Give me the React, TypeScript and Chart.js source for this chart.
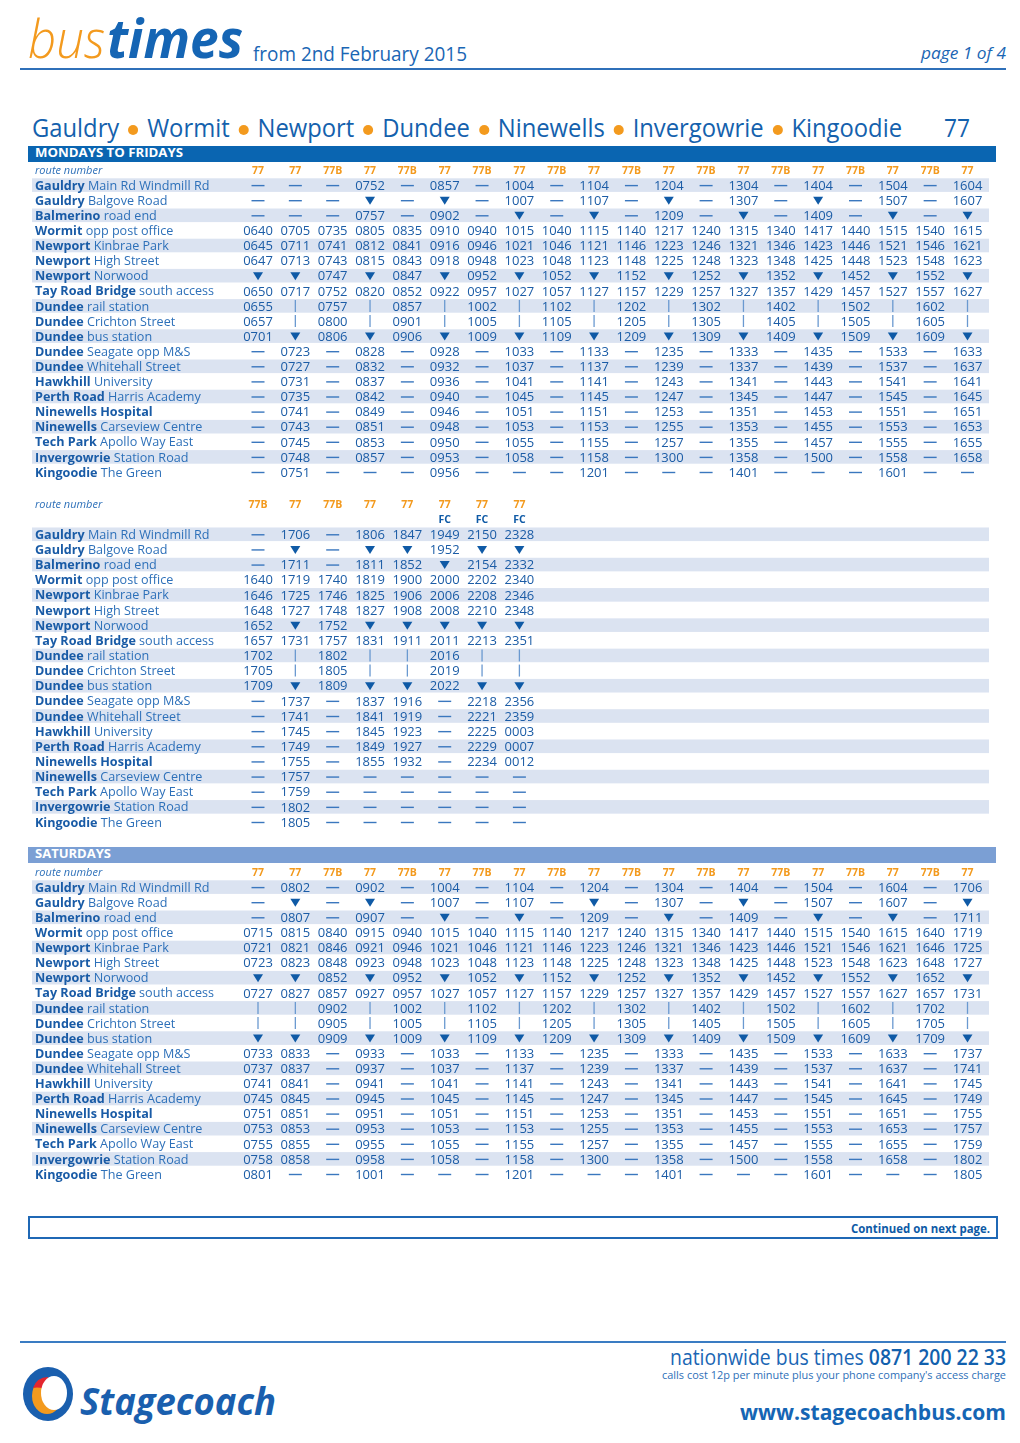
import React, { useEffect, useLayoutEffect, useRef } from "react";
import { Chart, registerables } from "chart.js";
Chart.register(...registerables);

// ---------- DATA ----------
const stopNames = ["Gauldry", "Gauldry", "Balmerino", "Wormit", "Newport", "Newport", "Newport", "Tay Road Bridge", "Dundee", "Dundee", "Dundee", "Dundee", "Dundee", "Hawkhill", "Perth Road", "Ninewells Hospital", "Ninewells", "Tech Park", "Invergowrie", "Kingoodie"];
const stopDetails = ["Main Rd Windmill Rd", "Balgove Road", "road end", "opp post office", "Kinbrae Park", "High Street", "Norwood", "south access", "rail station", "Crichton Street", "bus station", "Seagate opp M&S", "Whitehall Street", "University", "Harris Academy", "", "Carseview Centre", "Apollo Way East", "Station Road", "The Green"];

// tokens: "-" no service, "v" does not stop, "|" runs via other route
const monFriRoutes = ["77", "77", "77B", "77", "77B", "77", "77B", "77", "77B", "77", "77B", "77", "77B", "77", "77B", "77", "77B", "77", "77B", "77"];
const monFriTimes = [
  "- - - 0752 - 0857 - 1004 - 1104 - 1204 - 1304 - 1404 - 1504 - 1604",
  "- - - v - v - 1007 - 1107 - v - 1307 - v - 1507 - 1607",
  "- - - 0757 - 0902 - v - v - 1209 - v - 1409 - v - v",
  "0640 0705 0735 0805 0835 0910 0940 1015 1040 1115 1140 1217 1240 1315 1340 1417 1440 1515 1540 1615",
  "0645 0711 0741 0812 0841 0916 0946 1021 1046 1121 1146 1223 1246 1321 1346 1423 1446 1521 1546 1621",
  "0647 0713 0743 0815 0843 0918 0948 1023 1048 1123 1148 1225 1248 1323 1348 1425 1448 1523 1548 1623",
  "v v 0747 v 0847 v 0952 v 1052 v 1152 v 1252 v 1352 v 1452 v 1552 v",
  "0650 0717 0752 0820 0852 0922 0957 1027 1057 1127 1157 1229 1257 1327 1357 1429 1457 1527 1557 1627",
  "0655 | 0757 | 0857 | 1002 | 1102 | 1202 | 1302 | 1402 | 1502 | 1602 |",
  "0657 | 0800 | 0901 | 1005 | 1105 | 1205 | 1305 | 1405 | 1505 | 1605 |",
  "0701 v 0806 v 0906 v 1009 v 1109 v 1209 v 1309 v 1409 v 1509 v 1609 v",
  "- 0723 - 0828 - 0928 - 1033 - 1133 - 1235 - 1333 - 1435 - 1533 - 1633",
  "- 0727 - 0832 - 0932 - 1037 - 1137 - 1239 - 1337 - 1439 - 1537 - 1637",
  "- 0731 - 0837 - 0936 - 1041 - 1141 - 1243 - 1341 - 1443 - 1541 - 1641",
  "- 0735 - 0842 - 0940 - 1045 - 1145 - 1247 - 1345 - 1447 - 1545 - 1645",
  "- 0741 - 0849 - 0946 - 1051 - 1151 - 1253 - 1351 - 1453 - 1551 - 1651",
  "- 0743 - 0851 - 0948 - 1053 - 1153 - 1255 - 1353 - 1455 - 1553 - 1653",
  "- 0745 - 0853 - 0950 - 1055 - 1155 - 1257 - 1355 - 1457 - 1555 - 1655",
  "- 0748 - 0857 - 0953 - 1058 - 1158 - 1300 - 1358 - 1500 - 1558 - 1658",
  "- 0751 - - - 0956 - - - 1201 - - - 1401 - - - 1601 - -",
];

const eveRoutes = ["77B", "77", "77B", "77", "77", "77", "77", "77"];
const eveSubRoutes = ["", "", "", "", "", "FC", "FC", "FC"];
const eveTimes = [
  "- 1706 - 1806 1847 1949 2150 2328",
  "- v - v v 1952 v v",
  "- 1711 - 1811 1852 v 2154 2332",
  "1640 1719 1740 1819 1900 2000 2202 2340",
  "1646 1725 1746 1825 1906 2006 2208 2346",
  "1648 1727 1748 1827 1908 2008 2210 2348",
  "1652 v 1752 v v v v v",
  "1657 1731 1757 1831 1911 2011 2213 2351",
  "1702 | 1802 | | 2016 | |",
  "1705 | 1805 | | 2019 | |",
  "1709 v 1809 v v 2022 v v",
  "- 1737 - 1837 1916 - 2218 2356",
  "- 1741 - 1841 1919 - 2221 2359",
  "- 1745 - 1845 1923 - 2225 0003",
  "- 1749 - 1849 1927 - 2229 0007",
  "- 1755 - 1855 1932 - 2234 0012",
  "- 1757 - - - - - -",
  "- 1759 - - - - - -",
  "- 1802 - - - - - -",
  "- 1805 - - - - - -",
];

const satRoutes = ["77", "77", "77B", "77", "77B", "77", "77B", "77", "77B", "77", "77B", "77", "77B", "77", "77B", "77", "77B", "77", "77B", "77"];
const satTimes = [
  "- 0802 - 0902 - 1004 - 1104 - 1204 - 1304 - 1404 - 1504 - 1604 - 1706",
  "- v - v - 1007 - 1107 - v - 1307 - v - 1507 - 1607 - v",
  "- 0807 - 0907 - v - v - 1209 - v - 1409 - v - v - 1711",
  "0715 0815 0840 0915 0940 1015 1040 1115 1140 1217 1240 1315 1340 1417 1440 1515 1540 1615 1640 1719",
  "0721 0821 0846 0921 0946 1021 1046 1121 1146 1223 1246 1321 1346 1423 1446 1521 1546 1621 1646 1725",
  "0723 0823 0848 0923 0948 1023 1048 1123 1148 1225 1248 1323 1348 1425 1448 1523 1548 1623 1648 1727",
  "v v 0852 v 0952 v 1052 v 1152 v 1252 v 1352 v 1452 v 1552 v 1652 v",
  "0727 0827 0857 0927 0957 1027 1057 1127 1157 1229 1257 1327 1357 1429 1457 1527 1557 1627 1657 1731",
  "| | 0902 | 1002 | 1102 | 1202 | 1302 | 1402 | 1502 | 1602 | 1702 |",
  "| | 0905 | 1005 | 1105 | 1205 | 1305 | 1405 | 1505 | 1605 | 1705 |",
  "v v 0909 v 1009 v 1109 v 1209 v 1309 v 1409 v 1509 v 1609 v 1709 v",
  "0733 0833 - 0933 - 1033 - 1133 - 1235 - 1333 - 1435 - 1533 - 1633 - 1737",
  "0737 0837 - 0937 - 1037 - 1137 - 1239 - 1337 - 1439 - 1537 - 1637 - 1741",
  "0741 0841 - 0941 - 1041 - 1141 - 1243 - 1341 - 1443 - 1541 - 1641 - 1745",
  "0745 0845 - 0945 - 1045 - 1145 - 1247 - 1345 - 1447 - 1545 - 1645 - 1749",
  "0751 0851 - 0951 - 1051 - 1151 - 1253 - 1351 - 1453 - 1551 - 1651 - 1755",
  "0753 0853 - 0953 - 1053 - 1153 - 1255 - 1353 - 1455 - 1553 - 1653 - 1757",
  "0755 0855 - 0955 - 1055 - 1155 - 1257 - 1355 - 1457 - 1555 - 1655 - 1759",
  "0758 0858 - 0958 - 1058 - 1158 - 1300 - 1358 - 1500 - 1558 - 1658 - 1802",
  "0801 - - 1001 - - - 1201 - - - 1401 - - - 1601 - - - 1805",
];

// ---------- STYLE ----------
const FONT = '"Open Sans"';
const BLUE = "#1461ad";
const TIME = "#1b5ca6";
const LABEL_BOLD = "#195ba6";
const LABEL_NORM = "#2d70b9";
const DASH = "#3a77be";
const TRI = "#0f5aa6";
const VBAR = "#6a99d0";
const STRIPE = "#dbe3f1";
const ORANGE = "#f39a1e";

function drawToken(ctx: CanvasRenderingContext2D, v: string, x: number, y: number, kind: string) {
  ctx.save();
  if (kind === "routes") {
    ctx.font = `bold 10.5px ${FONT}`;
    ctx.fillStyle = ORANGE;
    ctx.textAlign = "center";
    ctx.fillText(v, x, y + 4);
  } else if (kind === "sub") {
    ctx.font = `bold 10.5px ${FONT}`;
    ctx.fillStyle = TRI;
    ctx.textAlign = "center";
    ctx.fillText(v, x, y + 4);
  } else if (v === "-") {
    ctx.strokeStyle = DASH;
    ctx.lineWidth = 1.4;
    ctx.beginPath();
    ctx.moveTo(x - 6.5, y + 0.5);
    ctx.lineTo(x + 6.5, y + 0.5);
    ctx.stroke();
  } else if (v === "v") {
    ctx.fillStyle = TRI;
    ctx.beginPath();
    ctx.moveTo(x - 5, y - 3.5);
    ctx.lineTo(x + 5, y - 3.5);
    ctx.lineTo(x, y + 4.5);
    ctx.closePath();
    ctx.fill();
  } else if (v === "|") {
    ctx.strokeStyle = VBAR;
    ctx.lineWidth = 1.3;
    ctx.beginPath();
    ctx.moveTo(x, y - 6);
    ctx.lineTo(x, y + 6);
    ctx.stroke();
  } else if (v) {
    ctx.font = `13px ${FONT}`;
    ctx.fillStyle = TIME;
    ctx.textAlign = "center";
    ctx.fillText(v, x, y + 4.7);
  }
  ctx.restore();
}

function makePlugin(routeRow: number) {
  return {
    id: "timetable",
    beforeDatasetsDraw(chart: any) {
      const { ctx } = chart;
      const ys = chart.scales.y;
      ctx.save();
      ctx.fillStyle = STRIPE;
      for (let r = 0; r < stopNames.length; r += 2) {
        const py = ys.getPixelForValue(r);
        ctx.fillRect(32, py - 6.8, 957, 13.6);
      }
      ctx.restore();
    },
    afterDatasetsDraw(chart: any) {
      const { ctx } = chart;
      const ys = chart.scales.y;
      ctx.save();
      ctx.font = `italic 11px ${FONT}`;
      ctx.fillStyle = LABEL_NORM;
      ctx.textAlign = "left";
      ctx.fillText("route number", 35, ys.getPixelForValue(routeRow) + 4);
      stopNames.forEach((name, r) => {
        const py = ys.getPixelForValue(r) + 4.6;
        ctx.font = `bold 12.6px ${FONT}`;
        ctx.fillStyle = LABEL_BOLD;
        ctx.fillText(name, 35, py);
        const w = ctx.measureText(name + " ").width;
        ctx.font = `12.6px ${FONT}`;
        ctx.fillStyle = LABEL_NORM;
        ctx.fillText(stopDetails[r], 35 + w, py);
      });
      ctx.restore();
      chart.data.datasets.forEach((ds: any, di: number) => {
        const meta = chart.getDatasetMeta(di);
        meta.data.forEach((el: any, i: number) => {
          drawToken(ctx, ds.data[i].v, el.x, el.y, ds.label);
        });
      });
    },
  };
}

function Timetable({ top, height, routes, subRoutes, times }: { top: number; height: number; routes: string[]; subRoutes?: string[]; times: string[] }) {
  const ref = useRef<HTMLCanvasElement>(null);
  useEffect(() => {
    if (!ref.current) return;
    const cells: any[] = [];
    times.forEach((row, ri) => row.split(" ").forEach((v, ci) => cells.push({ x: ci, y: ri, v })));
    const routeRow = subRoutes ? -2 : -1;
    const datasets: any[] = [
      { label: "times", data: cells, pointRadius: 0, pointHoverRadius: 0 },
      { label: "routes", data: routes.map((v, ci) => ({ x: ci, y: routeRow, v })), pointRadius: 0, pointHoverRadius: 0 },
    ];
    if (subRoutes) {
      datasets.push({
        label: "sub",
        data: subRoutes.map((v, ci) => ({ x: ci, y: -1, v })).filter((p) => p.v),
        pointRadius: 0,
        pointHoverRadius: 0,
      });
    }
    const chart = new Chart(ref.current, {
      type: "scatter",
      data: { datasets },
      options: {
        animation: false,
        responsive: false,
        events: [],
        layout: { padding: { left: 258, right: 52.5, top: 10, bottom: 10 } },
        scales: {
          x: { type: "linear", min: 0, max: 19, display: false },
          y: { type: "linear", min: routeRow, max: 19, reverse: true, display: false },
        },
        plugins: { legend: { display: false }, tooltip: { enabled: false } },
      } as any,
      plugins: [makePlugin(routeRow) as any],
    });
    return () => chart.destroy();
  }, []);
  return <canvas ref={ref} width={1020} height={height} style={{ position: "absolute", left: 0, top, width: 1020, height }} />;
}

function Fit({ x, base, w, size, weight = 400, italic = false, color = BLUE, children }: any) {
  const ref = useRef<HTMLSpanElement>(null);
  useLayoutEffect(() => {
    const el = ref.current;
    if (!el) return;
    el.style.transform = "none";
    const nat = el.getBoundingClientRect().width;
    if (nat > 0) el.style.transform = `scaleX(${w / nat})`;
  });
  return (
    <span
      ref={ref}
      style={{
        position: "absolute",
        left: x,
        top: base - 0.888 * size,
        fontSize: size,
        lineHeight: `${size}px`,
        fontFamily: FONT,
        fontWeight: weight,
        fontStyle: italic ? "italic" : "normal",
        color,
        whiteSpace: "nowrap",
        transformOrigin: "0 0",
        display: "inline-block",
      }}
    >
      {children}
    </span>
  );
}

const Dot = () => (
  <span
    style={{
      display: "inline-block",
      width: 11,
      height: 10,
      borderRadius: "50%",
      background: ORANGE,
      margin: "0 3px",
      verticalAlign: "2px",
    }}
  />
);

export default function App() {
  return (
    <div style={{ position: "absolute", left: 0, top: 0, width: 1020, height: 1443, background: "#fff", overflow: "hidden" }}>
      {/* header */}
      <Fit x={28} base={58} w={77} size={54} weight={300} italic color={ORANGE}>bus</Fit>
      <Fit x={107} base={58} w={136} size={54} weight={700} italic color="#1565b4">times</Fit>
      <Fit x={253} base={62} w={214} size={20} color="#1a66b4">from 2nd February 2015</Fit>
      <Fit x={921} base={59} w={85} size={16} italic color="#1a66b4">page 1 of 4</Fit>
      <div style={{ position: "absolute", left: 20, top: 68, width: 986, height: 2, background: "#2f70b9" }} />

      {/* title */}
      <Fit x={32} base={137} w={870} size={26} color={BLUE}>
        Gauldry <Dot /> Wormit <Dot /> Newport <Dot /> Dundee <Dot /> Ninewells <Dot /> Invergowrie <Dot /> Kingoodie
      </Fit>
      <Fit x={944} base={137} w={26} size={26} color={BLUE}>77</Fit>

      {/* Mondays to Fridays */}
      <div style={{ position: "absolute", left: 28, top: 146, width: 968, height: 16, background: "#0a65b1" }} />
      <Fit x={35} base={158.5} w={148} size={12.5} weight={700} color="#fff">MONDAYS TO FRIDAYS</Fit>
      <Timetable top={160} height={322} routes={monFriRoutes} times={monFriTimes} />
      <Timetable top={494} height={338} routes={eveRoutes} subRoutes={eveSubRoutes} times={eveTimes} />

      {/* Saturdays */}
      <div style={{ position: "absolute", left: 28, top: 847, width: 968, height: 16, background: "#7b9fd4" }} />
      <Fit x={35} base={859.5} w={76} size={12.5} weight={700} color="#fff">SATURDAYS</Fit>
      <Timetable top={862} height={322} routes={satRoutes} times={satTimes} />

      {/* continued box */}
      <div style={{ position: "absolute", left: 28, top: 1216, width: 970, height: 23, border: "2px solid #1f68b5", boxSizing: "border-box" }} />
      <Fit x={851} base={1234} w={139} size={12} weight={700} color="#0d5aa6">Continued on next page.</Fit>

      {/* footer */}
      <div style={{ position: "absolute", left: 20, top: 1341, width: 986, height: 2, background: "#3a7cc3" }} />
      <Fit x={670} base={1366} w={336} size={21} color="#1a66b4">
        nationwide bus times <span style={{ fontWeight: 600, color: "#1160ad" }}>0871 200 22 33</span>
      </Fit>
      <Fit x={662} base={1379.5} w={344} size={10.5} color="#2e6fb8">calls cost 12p per minute plus your phone company's access charge</Fit>
      <Fit x={740} base={1420} w={266} size={22} weight={700} color="#1565b4">www.stagecoachbus.com</Fit>

      <svg style={{ position: "absolute", left: 20, top: 1366 }} width={58} height={58} viewBox="0 0 58 58">
        <ellipse cx={28} cy={28} rx={25} ry={27} fill="#1a5fae" />
        <ellipse cx={27} cy={30} rx={15} ry={18} fill="#f39a1e" />
        <path d="M13,22 Q17,11 28,11 L30,27 Q22,20 13,22 Z" fill="#e3262e" />
        <ellipse cx={34} cy={27} rx={13} ry={17} fill="#fff" />
      </svg>
      <Fit x={80} base={1415} w={196} size={37} weight={700} italic color="#1a5fae">Stagecoach</Fit>
    </div>
  );
}
